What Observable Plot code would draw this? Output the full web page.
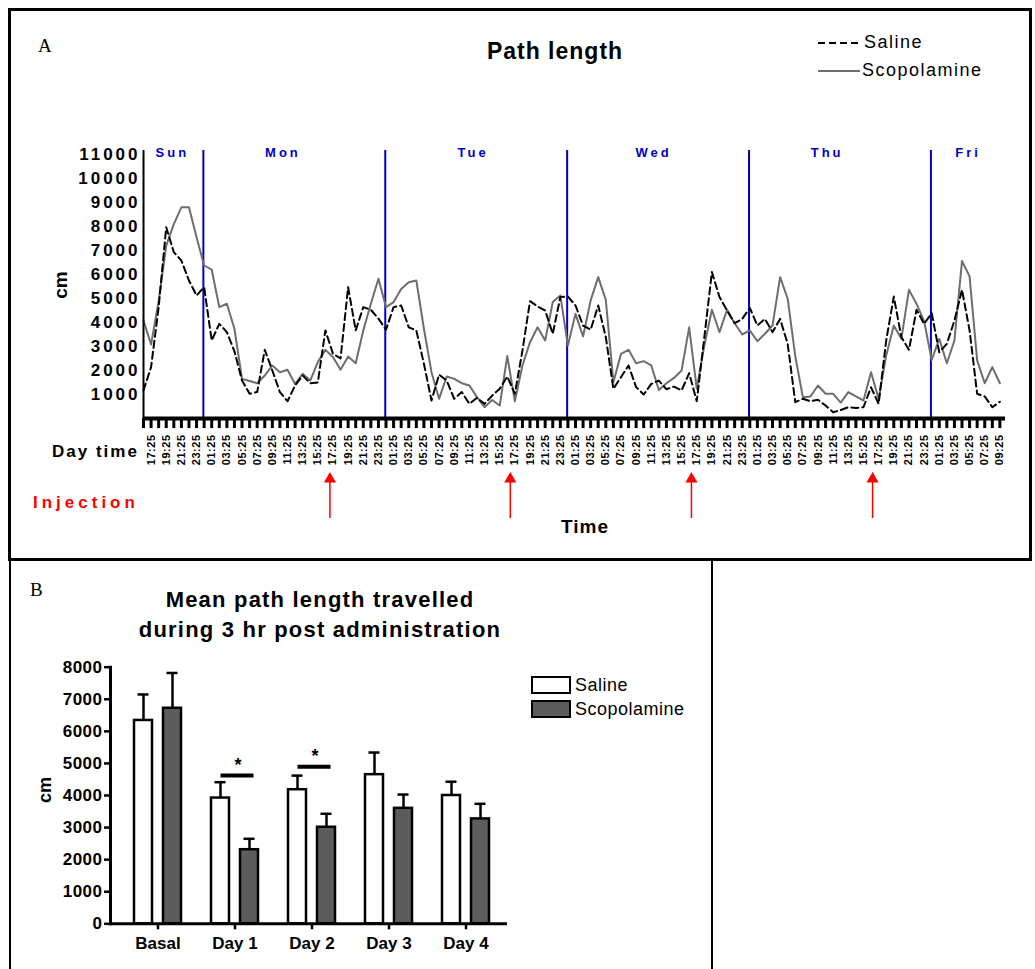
<!DOCTYPE html>
<html><head><meta charset="utf-8">
<script src="https://cdn.jsdelivr.net/npm/d3@7"></script>
<script src="https://cdn.jsdelivr.net/npm/@observablehq/plot@0.6"></script>
<style>
body{margin:0;background:#fff;font-family:"Liberation Sans",Arial,sans-serif;}
#wrap{position:relative;width:1035px;height:969px;overflow:hidden;background:#fff;}
.abs{position:absolute;white-space:nowrap;line-height:1;}
.b{font-weight:bold;}
svg{overflow:visible;}
</style></head><body><div id="wrap"></div>
<script>
// ---------- Panel A data (hourly, Sun 16:25 .. Fri 09:25) ----------
const saline = [1170,2140,4640,7970,6930,6580,5750,5125,5470,3250,3945,3600,2800,1580,1030,1100,2860,2000,1100,720,1375,1790,1470,1500,
3670,2700,2500,5470,3670,4640,4530,4160,3700,4640,4710,3800,3670,2280,750,1830,1580,820,1100,610,860,610,950,1240,
1750,1030,2830,4890,4670,4500,3530,5060,5080,4710,3875,3700,4710,3390,1240,1720,2210,1310,1000,1440,1580,1220,1330,1170,
1890,720,3390,6100,5060,4500,3970,4150,4610,3875,4150,3600,4150,3110,680,820,720,780,540,260,350,470,440,470,
1300,610,3250,5080,3390,2860,4530,3945,4390,2760,3110,4080,5360,3670,1030,920,470,700];
const scopolamine = [4083,3083,4900,7200,8100,8800,8800,7550,6375,6200,4640,4780,3740,1650,1560,1470,1790,2210,1930,2030,1440,1860,1580,2350,
2860,2560,2030,2580,2300,3670,4780,5820,4640,4850,5400,5680,5750,3740,1930,820,1750,1650,1470,1375,890,470,770,540,
2600,720,2210,3180,3800,3250,4850,5125,3040,4360,3420,4920,5890,4945,1510,2690,2860,2300,2390,2210,1190,1470,1690,2000,
3800,1240,3040,4530,3600,4530,3970,3500,3670,3220,3530,3875,5890,4990,2600,890,920,1375,1030,1030,660,1100,920,750,
1930,820,2630,3875,3320,5360,4780,4060,2440,3320,2300,3250,6560,5920,2420,1470,2140,1470];
const timeLabels = ["17:25","19:25","21:25","23:25",
"01:25","03:25","05:25","07:25","09:25","11:25","13:25","15:25","17:25","19:25","21:25","23:25",
"01:25","03:25","05:25","07:25","09:25","11:25","13:25","15:25","17:25","19:25","21:25","23:25",
"01:25","03:25","05:25","07:25","09:25","11:25","13:25","15:25","17:25","19:25","21:25","23:25",
"01:25","03:25","05:25","07:25","09:25","11:25","13:25","15:25","17:25","19:25","21:25","23:25",
"01:25","03:25","05:25","07:25","09:25"];
const days = ["Sun","Mon","Tue","Wed","Thu","Fri"];
const dayLabelHours = [3.8,18.4,43.5,67.3,90.2,108.8];
const dayBoundaryHours = [7.9,31.9,55.9,79.9,103.9];
const injectionHours = [24.6,48.4,72.3,96.2];
const yTicksA = [1000,2000,3000,4000,5000,6000,7000,8000,9000,10000,11000];

// ---------- Panel B data ----------
const groups = ["Basal","Day 1","Day 2","Day 3","Day 4"];
const salineMean = [6340,3920,4180,4650,4000];
const salineSem  = [810,495,440,690,430];
const scopMean   = [6720,2310,3010,3600,3270];
const scopSem    = [1100,340,420,430,470];
const sigGroups  = ["Day 1","Day 2"];
const sigLevel   = [4620,4900];
const yTicksB = [0,1000,2000,3000,4000,5000,6000,7000,8000];

const FONT = "Liberation Sans, Arial, sans-serif";
const wrap = document.getElementById("wrap");
function addText(txt, x, y, opts={}){
  const d = document.createElement("div");
  d.className = "abs" + (opts.bold ? " b" : "");
  d.textContent = txt;
  d.style.fontSize = (opts.size||16) + "px";
  if (opts.color) d.style.color = opts.color;
  if (opts.ls) d.style.letterSpacing = opts.ls + "px";
  if (opts.family) d.style.fontFamily = opts.family;
  d.style.left = x + "px"; d.style.top = y + "px";
  if (opts.anchor === "middle") d.style.transform = "translate(-50%,0)";
  if (opts.rotate) { d.style.transform = "translate(-50%,-50%) rotate(-90deg)"; }
  wrap.appendChild(d);
  return d;
}

// ---------- Panel A plot ----------
const hours = saline.map((_, i) => i);
const labelHours = timeLabels.map((_, i) => 1 + 2 * i);
const A = Plot.plot({
  width: 1035, height: 560,
  marginLeft: 143, marginRight: 30, marginTop: 154, marginBottom: 142,
  x: {domain: [0, 113.74]},
  y: {domain: [0, 11000]},
  style: {fontFamily: FONT, background: "transparent", overflow: "visible"},
  marks: [
    Plot.ruleX(dayBoundaryHours, {x: d => d, y1: 0, y2: 11170, stroke: "#0000c8", strokeWidth: 2}),
    Plot.text(days, {x: (d, i) => dayLabelHours[i], y: 11090, text: d => d, fill: "#0000c8", fontWeight: "bold", fontSize: 13}),
    Plot.lineY(scopolamine, {x: (d, i) => i, y: d => d, stroke: "#6e6e6e", strokeWidth: 2}),
    Plot.lineY(saline, {x: (d, i) => i, y: d => d, stroke: "#000", strokeWidth: 2, strokeDasharray: "7,4"}),
    Plot.ruleX(hours, {x: d => d, y1: 0, y2: -420, stroke: "#000", strokeWidth: 3}),
    Plot.ruleX([0], {y1: 0, y2: 11170, stroke: "#000", strokeWidth: 2}),
    Plot.ruleY([0], {x1: 0, x2: 113.74, stroke: "#000", strokeWidth: 4}),
    Plot.axisY({ticks: yTicksA, tickSize: 0, tickPadding: 3, fontSize: 17, fontWeight: "bold", label: null, tickFormat: d => String(d)}),
    Plot.axisX({ticks: labelHours, tickSize: 0, tickPadding: 16, tickRotate: -90, fontSize: 11, fontWeight: "bold", label: null,
      tickFormat: d => timeLabels[(d - 1) / 2]}),
    Plot.ruleX(injectionHours, {x: d => d, y1: -4170, y2: -2550, stroke: "red", strokeWidth: 1.5}),
    Plot.dot(injectionHours, {x: d => d, y: -2520, symbol: "triangle", r: 4.5, fill: "red", stroke: "none"})
  ]
});
A.style.position = "absolute"; A.style.left = "0px"; A.style.top = "0px";
wrap.appendChild(A);
d3.select(A).selectAll('[aria-label="y-axis tick label"] text').style("letter-spacing", "3px");
d3.select(A).selectAll('[aria-label="x-axis tick label"] text').style("letter-spacing", "0.5px");
d3.select(A).selectAll('[aria-label="text"] text').style("letter-spacing", "3px");

// ---------- Panel B plot ----------
const sal = groups.map((g, i) => ({g, m: salineMean[i], e: salineSem[i]}));
const sco = groups.map((g, i) => ({g, m: scopMean[i], e: scopSem[i]}));
const sig = sigGroups.map((g, i) => ({g, y: sigLevel[i]}));
const B = Plot.plot({
  width: 712, height: 407,
  marginLeft: 110, marginRight: 207, marginTop: 104.7, marginBottom: 45.7,
  x: {type: "band", domain: groups, range: [118.5, 503.5], padding: 0},
  y: {domain: [0, 8000]},
  style: {fontFamily: FONT, background: "transparent", overflow: "visible"},
  marks: [
    Plot.ruleX(sal, {x: "g", y1: "m", y2: d => d.m + d.e, dx: -14.5, stroke: "#000", strokeWidth: 2.5}),
    Plot.tickY(sal, {x: "g", y: d => d.m + d.e, insetLeft: 18.5, insetRight: 47.5, stroke: "#000", strokeWidth: 2.5}),
    Plot.ruleX(sco, {x: "g", y1: "m", y2: d => d.m + d.e, dx: 14.5, stroke: "#000", strokeWidth: 2.5}),
    Plot.tickY(sco, {x: "g", y: d => d.m + d.e, insetLeft: 47.5, insetRight: 18.5, stroke: "#000", strokeWidth: 2.5}),
    Plot.barY(sal, {x: "g", y: "m", fill: "#fff", stroke: "#000", strokeWidth: 2.5, insetLeft: 15, insetRight: 44}),
    Plot.barY(sco, {x: "g", y: "m", fill: "#5c5c5c", stroke: "#000", strokeWidth: 2.5, insetLeft: 44, insetRight: 15}),
    Plot.tickY(sig, {x: "g", y: "y", insetLeft: 24.5, insetRight: 19.5, stroke: "#000", strokeWidth: 4}),
    Plot.text(sig, {x: "g", y: "y", text: () => "*", dx: 3, dy: -10, fontSize: 18, fontWeight: "bold"}),
    Plot.frame({anchor: "left", stroke: "#000", strokeWidth: 3}),
    Plot.frame({anchor: "bottom", stroke: "#000", strokeWidth: 3}),
    Plot.axisY({ticks: yTicksB, tickSize: 6, strokeWidth: 2.5, tickPadding: 2, fontSize: 17, fontWeight: "bold", label: null, tickFormat: d => String(d)}),
    Plot.axisX({tickSize: 6, strokeWidth: 2.5, tickPadding: 7, fontSize: 17, fontWeight: "bold", label: null})
  ]
});
B.style.position = "absolute"; B.style.left = "0px"; B.style.top = "562px";
wrap.appendChild(B);
d3.select(B).selectAll('[aria-label="y-axis tick label"] text').style("letter-spacing", "0.5px");

// ---------- borders ----------
function box(l, t, w, h, css){ const d = document.createElement("div"); d.style.cssText = `position:absolute;left:${l}px;top:${t}px;width:${w}px;height:${h}px;box-sizing:border-box;${css}`; wrap.appendChild(d); }
box(8, 8, 1024, 553, "border:3px solid #000;");
box(9, 561, 1.5, 410, "background:#000;");
box(711, 561, 1.5, 410, "background:#000;");

// ---------- panel A texts ----------
addText("A", 38, 36, {size: 19, family: "Liberation Serif, Times New Roman, serif"});
addText("Path length", 555, 40, {size: 23, bold: true, anchor: "middle", ls: 1});
addText("Saline", 864, 33, {size: 18, ls: 1.5});
addText("Scopolamine", 862, 61, {size: 18, ls: 1.5});
const lg = document.createElementNS("http://www.w3.org/2000/svg", "svg");
lg.setAttribute("width", "60"); lg.setAttribute("height", "50");
lg.style.cssText = "position:absolute;left:810px;top:30px;";
lg.innerHTML = '<line x1="8" x2="50" y1="13" y2="13" stroke="#000" stroke-width="2" stroke-dasharray="7,4"/><line x1="8" x2="50" y1="41" y2="41" stroke="#6e6e6e" stroke-width="2"/>';
wrap.appendChild(lg);
addText("cm", 60, 285, {size: 19, bold: true, rotate: true});
addText("Day time", 52, 443, {size: 17, bold: true, ls: 2});
addText("Injection", 33, 494, {size: 17, bold: true, ls: 4, color: "#ff0000"});
addText("Time", 585, 517, {size: 19, bold: true, anchor: "middle", ls: 1});

// ---------- panel B texts ----------
addText("B", 30, 580, {size: 19, family: "Liberation Serif, Times New Roman, serif"});
addText("Mean path length travelled", 320, 589, {size: 22, bold: true, anchor: "middle", ls: 1.2});
addText("during 3 hr post administration", 320, 619, {size: 22, bold: true, anchor: "middle", ls: 1.2});
box(531, 676, 40, 18, "border:2px solid #000;background:#fff;");
box(531, 700, 40, 18, "border:2px solid #000;background:#5c5c5c;");
addText("Saline", 575, 676, {size: 18, ls: 0.5});
addText("Scopolamine", 575, 700, {size: 18, ls: 0.5});
addText("cm", 45, 790, {size: 18, bold: true, rotate: true});
</script></body></html>
